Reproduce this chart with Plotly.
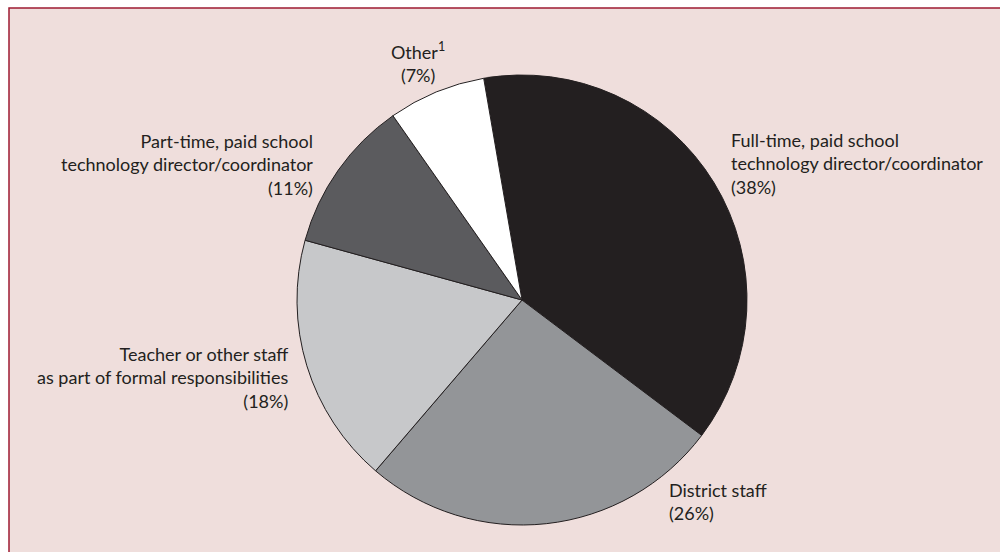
import plotly.graph_objects as go

# share of schools by who provides technology support
categories = [
    "Full-time, paid school technology director/coordinator",
    "District staff",
    "Teacher or other staff as part of formal responsibilities",
    "Part-time, paid school technology director/coordinator",
    "Other",
]
shares = [38, 26, 18, 11, 7]
colors = ["#231f20", "#939598", "#c7c8ca", "#5b5b5e", "#ffffff"]

# label text as shown around the pie
label_texts = [
    "Full-time, paid school<br>technology director/coordinator<br>(38%)",
    "District staff<br>(26%)",
    "Teacher or other staff<br>as part of formal responsibilities<br>(18%)",
    "Part-time, paid school<br>technology director/coordinator<br>(11%)",
    "Other<sup>1</sup><br>(7%)",
]
label_x = [729, 667, 290, 315, 418]
label_y = [163, 501, 377, 164, 63]
label_anchor = ["left", "left", "right", "right", "center"]

W, H = 1000, 552
font_family = "Lato, 'Open Sans', sans-serif"
text_color = "#231f20"

fig = go.Figure(go.Pie(
    labels=categories,
    values=shares,
    sort=False,
    direction="clockwise",
    rotation=-9.8,
    marker=dict(colors=colors, line=dict(color="#231f20", width=1)),
    textinfo="none",
    hoverinfo="label+percent",
    showlegend=False,
    domain=dict(x=[297 / W, 747 / W], y=[1 - 525 / H, 1 - 75 / H]),
))

for txt, x, y, anc in zip(label_texts, label_x, label_y, label_anchor):
    fig.add_annotation(
        text=txt, x=x / W, y=1 - y / H, xref="paper", yref="paper",
        xanchor=anc, yanchor="middle", align=anc, showarrow=False,
        font=dict(family=font_family, size=18, color=text_color),
    )

# pink panel with a maroon frame, set in from the top-left corner
fig.add_shape(
    type="rect", xref="paper", yref="paper",
    x0=9 / W, x1=1.05, y0=-0.05, y1=1 - 8 / H,
    line=dict(color="#9e1b32", width=1.5),
    fillcolor="#efdedc", layer="below",
)

fig.update_layout(
    width=W, height=H,
    margin=dict(l=0, r=0, t=0, b=0),
    paper_bgcolor="#ffffff",
    plot_bgcolor="#ffffff",
    font=dict(family=font_family, color=text_color),
)

fig.write_html(
    "out.html",
    config={"displayModeBar": False},
    post_script="document.body.style.margin='0';document.body.style.overflow='hidden';",
)
